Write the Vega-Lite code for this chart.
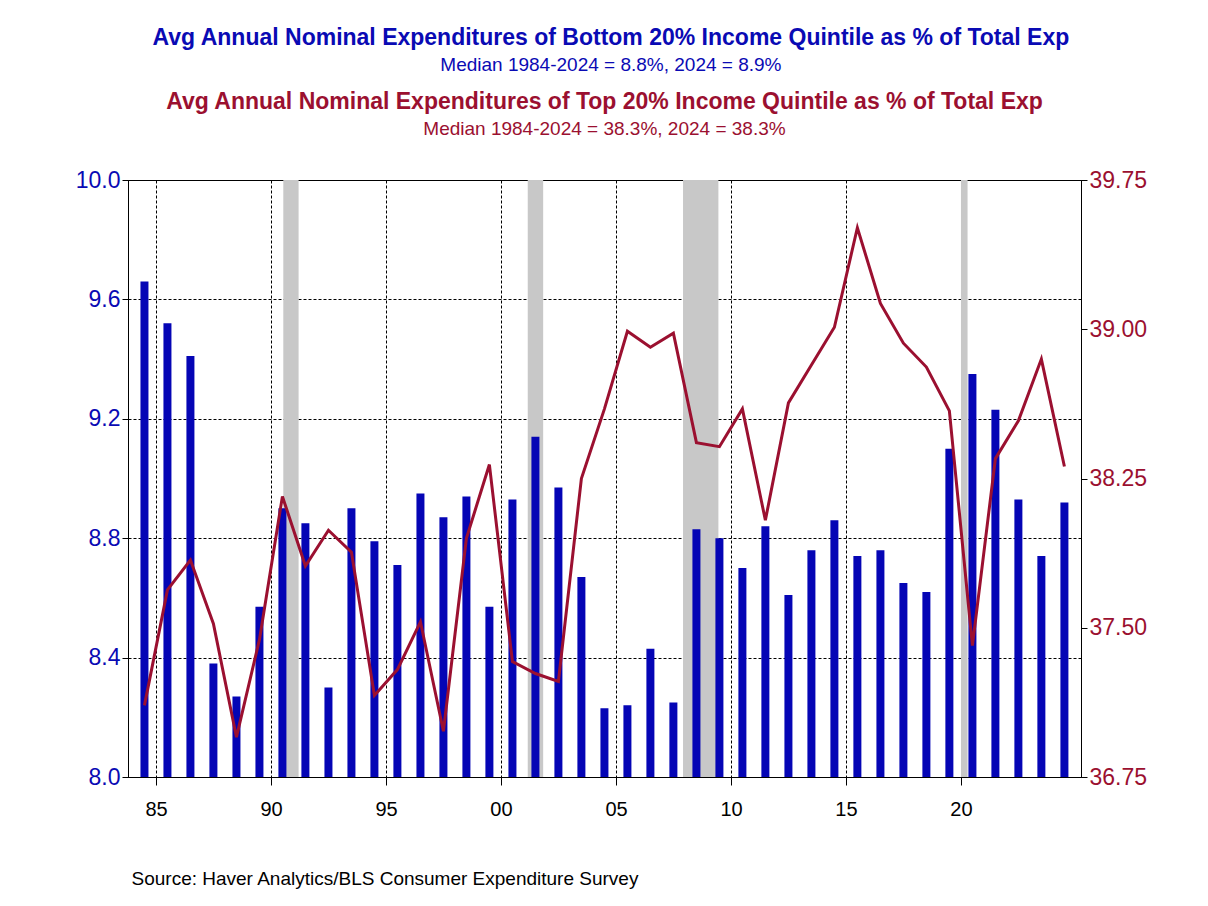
{
  "$schema": "https://vega.github.io/schema/vega-lite/v6.json",
  "background": "white",
  "padding": {"left": 74, "top": 26, "right": 20, "bottom": 10},
  "config": {"font": "Liberation Sans", "view": {"stroke": "black", "strokeWidth": 1}},
  "title": {
    "text": "Avg Annual Nominal Expenditures of Bottom 20% Income Quintile as % of Total Exp",
    "subtitle": "Median 1984-2024 = 8.8%, 2024 = 8.9%",
    "color": "#0A0AB4", "subtitleColor": "#0A0AB4", "fontSize": 23, "subtitleFontSize": 19,
    "fontWeight": "bold", "anchor": "middle", "subtitlePadding": 6, "offset": 16
  },
  "datasets": {
    "main": [
      {"date": "1984-07-01", "bottom": 9.66, "top": 37.11},
      {"date": "1985-07-01", "bottom": 9.52, "top": 37.69},
      {"date": "1986-07-01", "bottom": 9.41, "top": 37.84},
      {"date": "1987-07-01", "bottom": 8.38, "top": 37.52},
      {"date": "1988-07-01", "bottom": 8.27, "top": 36.95},
      {"date": "1989-07-01", "bottom": 8.57, "top": 37.44},
      {"date": "1990-07-01", "bottom": 8.90, "top": 38.16},
      {"date": "1991-07-01", "bottom": 8.85, "top": 37.81},
      {"date": "1992-07-01", "bottom": 8.30, "top": 37.99},
      {"date": "1993-07-01", "bottom": 8.90, "top": 37.88},
      {"date": "1994-07-01", "bottom": 8.79, "top": 37.16},
      {"date": "1995-07-01", "bottom": 8.71, "top": 37.29},
      {"date": "1996-07-01", "bottom": 8.95, "top": 37.53},
      {"date": "1997-07-01", "bottom": 8.87, "top": 36.98},
      {"date": "1998-07-01", "bottom": 8.94, "top": 37.95},
      {"date": "1999-07-01", "bottom": 8.57, "top": 38.32},
      {"date": "2000-07-01", "bottom": 8.93, "top": 37.33},
      {"date": "2001-07-01", "bottom": 9.14, "top": 37.27},
      {"date": "2002-07-01", "bottom": 8.97, "top": 37.23},
      {"date": "2003-07-01", "bottom": 8.67, "top": 38.25},
      {"date": "2004-07-01", "bottom": 8.23, "top": 38.60},
      {"date": "2005-07-01", "bottom": 8.24, "top": 38.99},
      {"date": "2006-07-01", "bottom": 8.43, "top": 38.91},
      {"date": "2007-07-01", "bottom": 8.25, "top": 38.98},
      {"date": "2008-07-01", "bottom": 8.83, "top": 38.43},
      {"date": "2009-07-01", "bottom": 8.80, "top": 38.41},
      {"date": "2010-07-01", "bottom": 8.70, "top": 38.60},
      {"date": "2011-07-01", "bottom": 8.84, "top": 38.04},
      {"date": "2012-07-01", "bottom": 8.61, "top": 38.63},
      {"date": "2013-07-01", "bottom": 8.76, "top": 38.82},
      {"date": "2014-07-01", "bottom": 8.86, "top": 39.01},
      {"date": "2015-07-01", "bottom": 8.74, "top": 39.51},
      {"date": "2016-07-01", "bottom": 8.76, "top": 39.13},
      {"date": "2017-07-01", "bottom": 8.65, "top": 38.93},
      {"date": "2018-07-01", "bottom": 8.62, "top": 38.81},
      {"date": "2019-07-01", "bottom": 9.10, "top": 38.59},
      {"date": "2020-07-01", "bottom": 9.35, "top": 37.41},
      {"date": "2021-07-01", "bottom": 9.23, "top": 38.35},
      {"date": "2022-07-01", "bottom": 8.93, "top": 38.54},
      {"date": "2023-07-01", "bottom": 8.74, "top": 38.85},
      {"date": "2024-07-01", "bottom": 8.92, "top": 38.31}
    ],
    "rec": [
      {"start": "1990-07-15", "end": "1991-03-15"},
      {"start": "2001-03-01", "end": "2001-11-01"},
      {"start": "2007-12-01", "end": "2009-06-15"},
      {"start": "2020-01-01", "end": "2020-04-15"}
    ]
  },
  "vconcat": [
    {
      "width": 953,
      "height": 597,
      "title": {
        "text": "Avg Annual Nominal Expenditures of Top 20% Income Quintile as % of Total Exp",
        "subtitle": "Median 1984-2024 = 38.3%, 2024 = 38.3%",
        "color": "#9B1030", "subtitleColor": "#9B1030", "fontSize": 23, "subtitleFontSize": 19,
        "fontWeight": "bold", "anchor": "middle", "subtitlePadding": 6, "offset": 30
      },
      "layer": [
        {
          "data": {"name": "rec"},
          "mark": {"type": "rect", "color": "#C8C8C8"},
          "encoding": {
            "x": {"field": "start", "type": "temporal",
                  "scale": {"domain": ["1984-01-01", "2025-01-01"]},
                  "axis": {
                    "values": ["1985-01-01", "1990-01-01", "1995-01-01", "2000-01-01", "2005-01-01", "2010-01-01", "2015-01-01", "2020-01-01"],
                    "format": "%y", "labelFontSize": 20, "labelColor": "black",
                    "grid": true, "gridColor": "black", "gridDash": [3, 2], "gridOpacity": 1,
                    "domainColor": "black", "tickColor": "black", "tickSize": 8, "labelPadding": 14,
                    "title": "Source:  Haver Analytics/BLS Consumer Expenditure Survey",
                    "titleFontSize": 19, "titleFontWeight": "normal", "titleColor": "black",
                    "titleAnchor": "start", "titleAlign": "left", "titlePadding": 50, "titleX": 3
                  }},
            "x2": {"field": "end"}
          }
        },
        {
          "data": {"name": "main"},
          "mark": {"type": "bar", "color": "#0505B5", "width": 8, "clip": true},
          "encoding": {
            "x": {"field": "date", "type": "temporal"},
            "y": {"field": "bottom", "type": "quantitative",
                  "scale": {"domain": [8, 10], "nice": false, "zero": false},
                  "axis": {"values": [8, 8.4, 8.8, 9.2, 9.6, 10], "format": ".1f", "title": null,
                           "labelFontSize": 23, "labelColor": "#0A0AB4", "grid": true,
                           "gridColor": "black", "gridDash": [3, 2], "gridOpacity": 1,
                           "domainColor": "black", "tickColor": "black", "tickSize": 6}}
          }
        },
        {
          "data": {"name": "main"},
          "mark": {"type": "line", "color": "#9B1030", "strokeWidth": 3},
          "encoding": {
            "x": {"field": "date", "type": "temporal"},
            "y": {"field": "top", "type": "quantitative",
                  "scale": {"domain": [36.75, 39.75], "nice": false, "zero": false},
                  "axis": {"orient": "right", "values": [36.75, 37.5, 38.25, 39, 39.75], "format": ".2f",
                           "title": null, "labelFontSize": 23, "labelColor": "#9B1030", "grid": false,
                           "domainColor": "black", "tickColor": "black", "tickSize": 6}}
          }
        }
      ],
      "resolve": {"scale": {"y": "independent"}}
    }
  ]
}
